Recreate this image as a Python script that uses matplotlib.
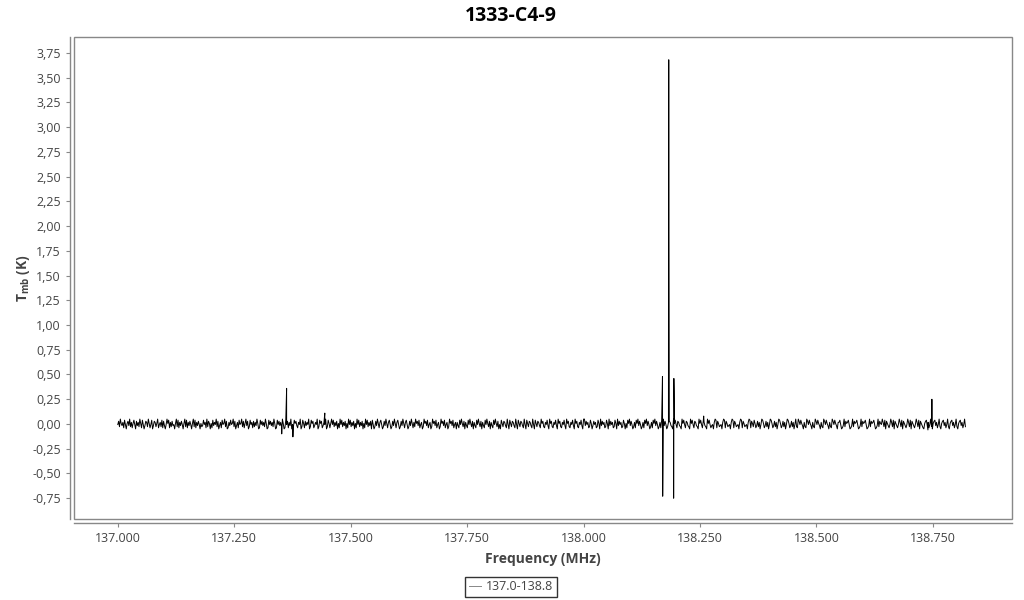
import matplotlib
matplotlib.use("Agg")
import matplotlib.pyplot as plt
from matplotlib.patches import Rectangle
from matplotlib.ticker import FuncFormatter, MultipleLocator
import numpy as np

plt.rcParams['font.family'] = ['Open Sans', 'DejaVu Sans']
plt.rcParams['mathtext.fontset'] = 'custom'
plt.rcParams['mathtext.rm'] = 'Open Sans'
plt.rcParams['mathtext.bf'] = 'Open Sans:bold'

# spectrum channels span 137.0 - 138.82 MHz
freq_start = 137.0
freq_stop = 138.82

# baseline noise, one digit per channel: T = (digit - 4.5) * 0.011 K
noise_digits = (
    "47295361840573926158407362951840376295148037625914"
    "62817304958162734059281637405928163740592816374052"
    "38461927505183649270361845927016384592703618459271"
    "59370284617263950184736295018473629501847362950184"
    "71639042857316490285173649028571364902857136490285"
    "15948263705194826370519482637051948263705194826370"
    "84027395168402739516840273951684027395168402739516"
    "29573814602957381460295738146029573814602957381460"
    "63184952706318495270631849527063184952706318495270"
    "40852763194085276319408527631940852763194085276319"
    "57216483095721648309572164830957216483095721648309"
    "93746128503746128509374612850937461285093746128505"
    "18593740261859374026185937402618593740261859374026"
    "76320958417632095841763209584176320958417632095841"
    "34069817523406981752340698175234069817523406981752"
    "85137260498513726049851372604985137260498513726049"
    "21974853062197485306219748530621974853062197485306"
    "68401392756840139275684013927568401392756840139275"
    "49628075314962807531496280753149628075314962807531"
    "05783614920578361492057836149205783614920578361492"
)

# line features (MHz, K)
line_freq = [137.352, 137.3625, 137.376, 137.4445,
             138.1695, 138.1700, 138.1825, 138.1830,
             138.1935, 138.1940, 138.1945, 138.2580,
             138.7395, 138.7480]
line_tmb = [-0.10, 0.36, -0.13, 0.11,
            0.48, -0.73, 1.95, 3.68,
            -0.75, 0.46, 0.33, 0.08,
            -0.06, 0.25]

series_label = "137.0-138.8"
title = "1333-C4-9"

noise = (np.array([int(c) for c in noise_digits]) - 4.5) * 0.011
chan = np.linspace(freq_start, freq_stop, len(noise))
f_all = np.concatenate([chan, line_freq])
t_all = np.concatenate([noise, line_tmb])
order = np.argsort(f_all)
f_all = f_all[order]
t_all = t_all[order]

fig = plt.figure(figsize=(10.24, 6.0), dpi=100)
ax = fig.add_axes([74 / 1024, 1 - 519 / 600, 938 / 1024, 482 / 600])

ax.plot(f_all, t_all, color='black', lw=0.7, label=series_label)

ax.set_xlim(136.906, 138.92)
ax.set_ylim(-0.96, 3.91)

ax.xaxis.set_major_locator(MultipleLocator(0.25))
ax.yaxis.set_major_locator(MultipleLocator(0.25))
ax.xaxis.set_major_formatter(FuncFormatter(lambda v, p: f"{v:.3f}"))
ax.yaxis.set_major_formatter(FuncFormatter(lambda v, p: f"{v:.2f}".replace('.', ',')))

gray = '#888888'
for s in ['top', 'right']:
    ax.spines[s].set_visible(False)
for s in ['left', 'bottom']:
    ax.spines[s].set_position(('outward', 3))
    ax.spines[s].set_color(gray)
    ax.spines[s].set_linewidth(1.0)
ax.add_patch(Rectangle((0, 0), 1, 1, transform=ax.transAxes, fill=False,
                       edgecolor=gray, lw=1.0, clip_on=False))

ax.tick_params(axis='both', colors=gray, length=3, width=0.8,
               labelsize=9, labelcolor='#444444')

ax.set_xlabel("Frequency (MHz)", fontsize=10, fontweight='bold', color='#444444', labelpad=5)
ax.set_ylabel(r"T$_{\mathbf{mb}}$ (K)", fontsize=10, fontweight='bold', color='#444444', labelpad=0)
fig.suptitle(title, x=511 / 1024, y=1 - 6 / 600, fontsize=14, fontweight='bold', va='top')

leg = fig.legend(loc='center', bbox_to_anchor=(511 / 1024, 1 - 587 / 600),
                 fontsize=9, frameon=True, fancybox=False, handlelength=1.0,
                 handletextpad=0.4, borderpad=0.3, labelcolor='#444444')
leg.get_frame().set_edgecolor('black')
leg.get_frame().set_linewidth(1.0)
for h in leg.get_lines():
    h.set_color('#888888')

fig.savefig("out.png", dpi=100)
